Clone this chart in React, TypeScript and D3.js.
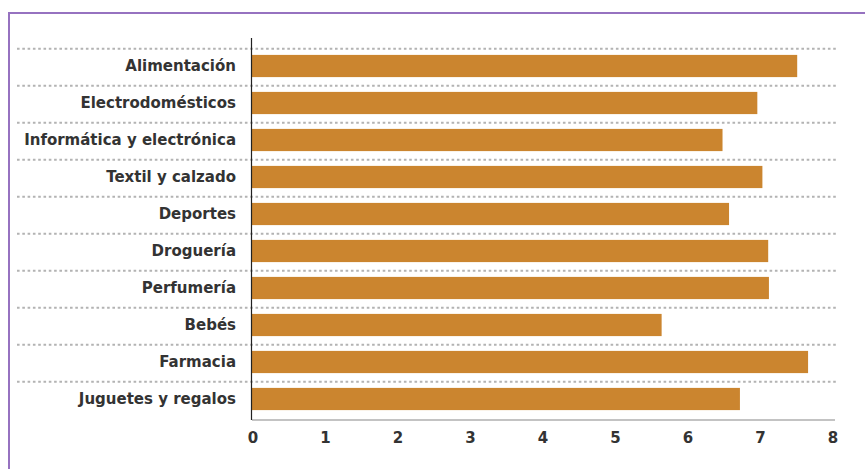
import React from "react";
import * as d3 from "d3";

const categories = [
  "Alimentación",
  "Electrodomésticos",
  "Informática y electrónica",
  "Textil y calzado",
  "Deportes",
  "Droguería",
  "Perfumería",
  "Bebés",
  "Farmacia",
  "Juguetes y regalos",
];
const values = [7.52, 6.97, 6.49, 7.04, 6.58, 7.12, 7.13, 5.65, 7.67, 6.73];
const xTicks = [0, 1, 2, 3, 4, 5, 6, 7, 8];

const W = 865;
const H = 469;
const FONT = "'DejaVu Sans', sans-serif";

export default function App() {
  const x = d3.scaleLinear().domain([0, 8]).range([252, 832]);
  const y = d3
    .scaleBand<string>()
    .domain(categories)
    .range([47.5, 417.5])
    .paddingInner(0.4)
    .paddingOuter(0.2);
  const step = y.step();
  const bw = y.bandwidth();

  return (
    <svg
      width={W}
      height={H}
      style={{ position: "absolute", left: 0, top: 0, background: "#fff" }}
    >
      <rect x={0} y={0} width={W} height={H} fill="#fff" />
      {/* purple frame */}
      <line x1={9} x2={W + 5} y1={13} y2={13} stroke="#9672c0" strokeWidth={2} />
      <line x1={9} x2={9} y1={12} y2={H + 5} stroke="#9672c0" strokeWidth={2} />

      {/* dotted separators */}
      {categories.map((c) => {
        const yy = (y(c) as number) + bw / 2 - step / 2 + 1.2;
        return (
          <line
            key={"g" + c}
            x1={17}
            x2={836}
            y1={yy}
            y2={yy}
            stroke="#b3b3b3"
            strokeWidth={2}
            strokeDasharray="2.6 2.7"
          />
        );
      })}

      {/* bars */}
      {categories.map((c, i) => (
        <rect
          key={"b" + c}
          x={x(0)}
          y={y(c)}
          width={x(values[i]) - x(0)}
          height={bw}
          fill="#cb852f"
        />
      ))}

      {/* category labels */}
      {categories.map((c) => (
        <text
          key={"l" + c}
          x={236}
          y={(y(c) as number) + bw / 2}
          dy="0.36em"
          textAnchor="end"
          fontFamily={FONT}
          fontWeight={700}
          fontSize={15}
          fill="#333"
        >
          {c}
        </text>
      ))}

      {/* axes */}
      <line x1={x(0)} x2={835} y1={420} y2={420} stroke="#888" strokeWidth={1.2} />
      <line x1={251.5} x2={251.5} y1={38} y2={420} stroke="#222" strokeWidth={1.2} />

      {xTicks.map((t) => (
        <text
          key={"t" + t}
          x={x(t) + 1}
          y={438}
          dy="0.36em"
          textAnchor="middle"
          fontFamily={FONT}
          fontWeight={700}
          fontSize={15}
          fill="#333"
        >
          {t}
        </text>
      ))}
    </svg>
  );
}
